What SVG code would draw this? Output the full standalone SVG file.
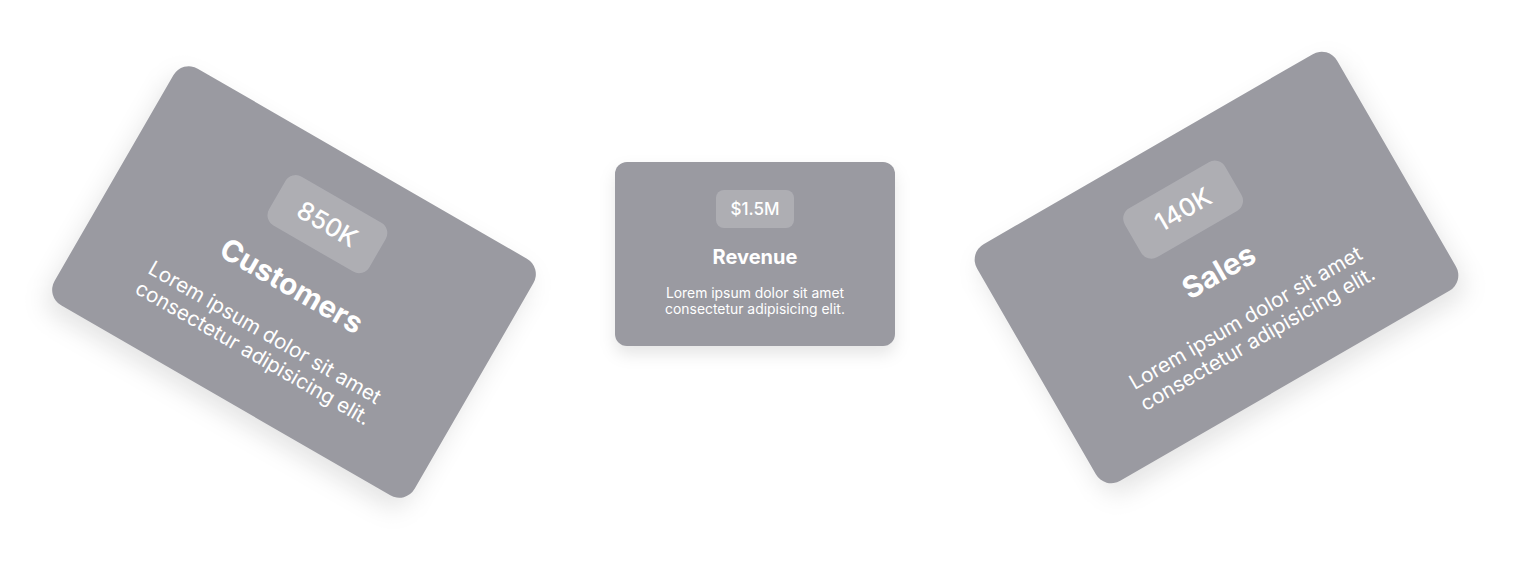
<svg xmlns="http://www.w3.org/2000/svg" width="1514" height="571" viewBox="0 0 1514 571">
  <defs>
    <filter id="shadow" x="-20%" y="-20%" width="140%" height="150%">
      <feGaussianBlur stdDeviation="8"/>
    </filter>
  </defs>
  <style>
    .card { fill: #9a9aa1; }
    .shade { fill: #000000; fill-opacity: 0.10; }
    .badge { fill: #ffffff; fill-opacity: 0.2; }
    .num { font-family: Inter, "Noto Sans", sans-serif; font-size: 17px; font-weight: 500; fill: #ffffff; text-anchor: middle; }
    .title { font-family: Inter, "Noto Sans", sans-serif; font-size: 20px; font-weight: 700; fill: #ffffff; text-anchor: middle; }
    .desc { font-family: Inter, "Noto Sans", sans-serif; font-size: 13.9px; font-weight: 400; fill: #ffffff; text-anchor: middle; }
  </style>
  <rect width="1514" height="571" fill="#ffffff"/>

  <g id="card-customers" transform="translate(294 282) rotate(30) scale(1.485)">
    <rect class="shade" x="-140" y="-84" width="280" height="184" rx="12" filter="url(#shadow)"/>
    <rect class="card" x="-140" y="-92" width="280" height="184" rx="12"/>
    <rect class="badge" x="-39" y="-64" width="78" height="38" rx="8"/>
    <text class="num" x="0" y="-39">850K</text>
    <text class="title" x="0" y="10">Customers</text>
    <text class="desc" x="0" y="44">Lorem ipsum dolor sit amet</text>
    <text class="desc" x="0" y="60">consectetur adipisicing elit.</text>
  </g>

  <g id="card-revenue" transform="translate(755 254)">
    <rect class="shade" x="-140" y="-84" width="280" height="184" rx="12" filter="url(#shadow)"/>
    <rect class="card" x="-140" y="-92" width="280" height="184" rx="12"/>
    <rect class="badge" x="-39" y="-64" width="78" height="38" rx="8"/>
    <text class="num" x="0" y="-39">$1.5M</text>
    <text class="title" x="0" y="10">Revenue</text>
    <text class="desc" x="0" y="44">Lorem ipsum dolor sit amet</text>
    <text class="desc" x="0" y="60">consectetur adipisicing elit.</text>
  </g>

  <g id="card-sales" transform="translate(1216.5 267.5) rotate(-30) scale(1.485)">
    <rect class="shade" x="-140" y="-84" width="280" height="184" rx="12" filter="url(#shadow)"/>
    <rect class="card" x="-140" y="-92" width="280" height="184" rx="12"/>
    <rect class="badge" x="-39" y="-64" width="78" height="38" rx="8"/>
    <text class="num" x="0" y="-39">140K</text>
    <text class="title" x="0" y="10">Sales</text>
    <text class="desc" x="0" y="44">Lorem ipsum dolor sit amet</text>
    <text class="desc" x="0" y="60">consectetur adipisicing elit.</text>
  </g>

  <g id="connectors"></g>
</svg>
